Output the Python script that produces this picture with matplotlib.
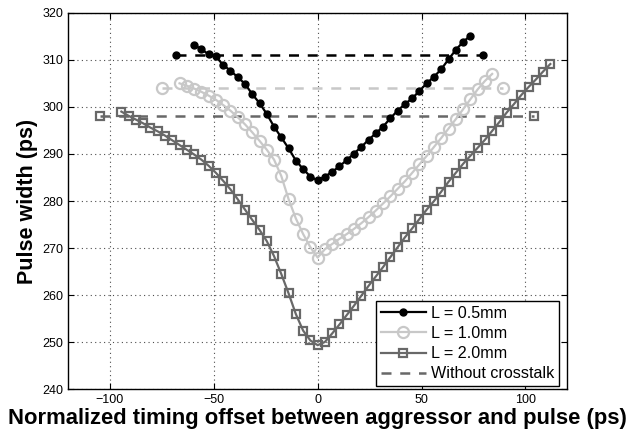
import matplotlib
matplotlib.use('Agg')
import matplotlib.pyplot as plt

plt.rcParams['font.family'] = ['Liberation Sans', 'DejaVu Sans']

# L = 0.5mm
x_05 = [-59.5, -56, -52.5, -49, -45.5, -42, -38.5, -35, -31.5, -28, -24.5, -21,
        -17.5, -14, -10.5, -7, -3.5, 0,
        3.5, 7, 10.5, 14, 17.5, 21, 24.5, 28, 31.5, 35, 38.5, 42, 45.5, 49,
        52.5, 56, 59.5, 63, 66.5, 70, 73.5]
y_05 = [313.2, 312.2, 311.2, 310.7, 308.9, 307.7, 306.3, 304.9, 302.7, 300.8, 298.5, 295.8,
        293.5, 291.2, 288.6, 286.8, 285.2, 284.4,
        285.2, 286.2, 287.4, 288.7, 290.1, 291.5, 293.0, 294.4, 295.8, 297.6, 299.2, 300.6, 301.8,
        303.4, 305.0, 306.4, 308.0, 310.1, 312.1, 313.8, 315.1]

# L = 1.0mm
x_10 = [-66.5, -63, -59.5, -56, -52.5, -49, -45.5, -42, -38.5, -35, -31.5, -28,
        -24.5, -21, -17.5, -14, -10.5, -7, -3.5, 0,
        3.5, 7, 10.5, 14, 17.5, 21, 24.5, 28, 31.5, 35, 38.5, 42, 45.5, 49,
        52.5, 56, 59.5, 63, 66.5, 70, 73.5, 77, 80.5, 84]
y_10 = [305.0, 304.5, 303.9, 303.2, 302.4, 301.5, 300.4, 299.2, 297.8, 296.3, 294.6, 292.8,
        290.9, 288.8, 285.3, 280.4, 276.3, 273.0, 270.2, 268.0,
        269.8, 270.9, 272.0, 273.0, 274.1, 275.3, 276.6, 278.0, 279.5, 281.0, 282.6, 284.2,
        286.0, 287.8, 289.6, 291.5, 293.4, 295.4, 297.4, 299.5, 301.6, 303.7, 305.5, 307.0]

# L = 2.0mm
x_20 = [-94.5, -91, -87.5, -84, -80.5, -77, -73.5, -70, -66.5, -63, -59.5, -56,
        -52.5, -49, -45.5, -42, -38.5, -35, -31.5, -28, -24.5, -21, -17.5, -14,
        -10.5, -7, -3.5, 0,
        3.5, 7, 10.5, 14, 17.5, 21, 24.5, 28, 31.5, 35, 38.5, 42, 45.5, 49,
        52.5, 56, 59.5, 63, 66.5, 70, 73.5, 77, 80.5, 84, 87.5, 91, 94.5, 98,
        101.5, 105, 108.5, 112]
y_20 = [299.0, 298.1, 297.3, 296.5, 295.6, 294.8, 293.9, 292.9, 291.9, 290.9, 289.9, 288.8,
        287.5, 286.0, 284.3, 282.5, 280.4, 278.2, 276.0, 273.9, 271.5, 268.3, 264.5, 260.4,
        256.0, 252.5, 250.4, 249.4,
        250.1, 251.9, 253.8, 255.8, 257.8, 259.9, 262.0, 264.0, 266.0, 268.1, 270.2, 272.3,
        274.2, 276.2, 278.2, 280.0, 282.0, 284.1, 286.0, 287.9, 289.6, 291.3, 293.0, 294.9,
        296.8, 298.8, 300.6, 302.5, 304.2, 305.8, 307.5, 309.1]

# without crosstalk (start/end offset, width)
nox_05 = ([-68, 79.5], 311)
nox_10 = ([-75, 89.4], 304)
nox_20 = ([-105, 104.3], 298)

c05 = 'black'
c10 = '#c8c8c8'
c20 = '#686868'

fig = plt.figure(figsize=(6.37, 4.36), dpi=100)
ax = fig.add_axes([0.1074, 0.1067, 0.7826, 0.8642])

for (xs, yv), c in [(nox_05, c05), (nox_10, c10), (nox_20, c20)]:
    ax.plot(xs, [yv, yv], '--', color=c, lw=1.8, dashes=(4, 3.5), zorder=2)

l1, = ax.plot(x_05, y_05, '-', color=c05, lw=1.6, marker='o', ms=5, mfc=c05, mec=c05,
              zorder=3, label='L = 0.5mm')
ax.plot(nox_05[0], [nox_05[1]] * 2, 'o', color=c05, ms=5, zorder=3)

l2, = ax.plot(x_10, y_10, '-', color=c10, lw=1.6, marker='o', ms=8, mfc='none', mec=c10,
              mew=1.6, zorder=3, label='L = 1.0mm')
ax.plot(nox_10[0], [nox_10[1]] * 2, 'o', ms=8, mfc='none', mec=c10, mew=1.6, zorder=3)

l3, = ax.plot(x_20, y_20, '-', color=c20, lw=1.6, marker='s', ms=6, mfc='none', mec=c20,
              mew=1.6, zorder=3, label='L = 2.0mm')
ax.plot(nox_20[0], [nox_20[1]] * 2, 's', ms=6, mfc='none', mec=c20, mew=1.6, zorder=3)

l4, = ax.plot([], [], '--', color=c20, lw=1.8, dashes=(4, 3.5), label='Without crosstalk')

ax.set_xlim(-120, 120)
ax.set_ylim(240, 320)
ax.set_xticks([-100, -50, 0, 50, 100])
ax.set_xticklabels(['\u2212100', '\u221250', '0', '50', '100'])
ax.set_yticks(range(240, 321, 10))
ax.tick_params(direction='in', top=True, right=True, labelsize=9, length=4, width=0.8)
ax.grid(True, linestyle=(0, (1, 3)), color='0.3', lw=0.8)
for s in ax.spines.values():
    s.set_linewidth(1.0)

ax.set_xlabel('Normalized timing offset between aggressor and pulse (ps)',
              fontsize=15.8, fontweight='bold', labelpad=1)
ax.set_ylabel('Pulse width (ps)', fontsize=15.5, fontweight='bold', labelpad=3)

leg = ax.legend(handles=[l1, l2, l3, l4], loc='lower right', fontsize=11.6,
                frameon=True, fancybox=False, edgecolor='black', framealpha=1,
                borderaxespad=0.2, handlelength=2.8, handletextpad=0.3,
                labelspacing=0.32, borderpad=0.3, bbox_to_anchor=(0.99, 0.0))
leg.get_frame().set_linewidth(1.0)

fig.savefig('out.png', dpi=100)
